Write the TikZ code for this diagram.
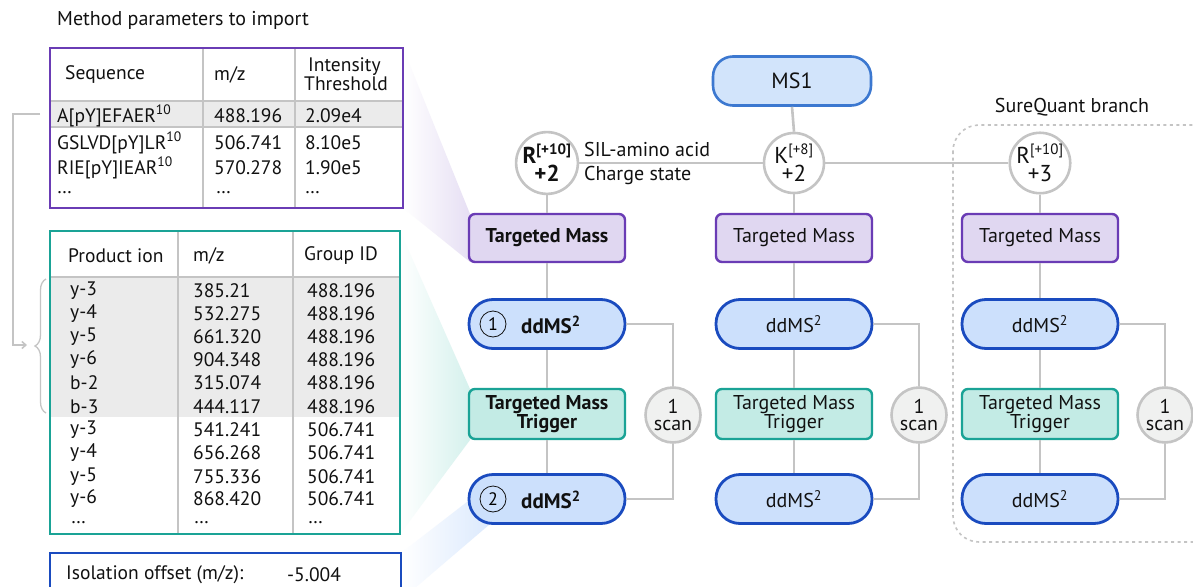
\documentclass[tikz,border=0pt]{standalone}
\usepackage{fontspec}
\setmainfont{PT Sans}
\usetikzlibrary{decorations.pathreplacing,arrows.meta}
\definecolor{purpS}{HTML}{6A3CB5}
\definecolor{purpF}{HTML}{E0D7F1}
\definecolor{tealS}{HTML}{1AA396}
\definecolor{tealF}{HTML}{C3EBE5}
\definecolor{blueS}{HTML}{1A4BBF}
\definecolor{blueF}{HTML}{CCE0FC}
\definecolor{msS}{HTML}{3C78D0}
\definecolor{msF}{HTML}{D2E4FB}
\definecolor{lineG}{HTML}{C4C4C4}
\definecolor{rowG}{HTML}{EBEBEB}
\definecolor{scanF}{HTML}{F0F1F0}
\definecolor{txt}{HTML}{111111}
\tikzset{
  fs/.style={font=\fontsize{20}{21}\selectfont},
  tbl/.style={font=\fontsize{19.5}{20}\selectfont, anchor=west, inner sep=0pt, text=txt},
  conn/.style={draw=lineG, line width=2.6pt},
  tmbox/.style={fs, draw=purpS, fill=purpF, line width=2.4pt, rounded corners=6pt, minimum width=156pt, minimum height=48pt, text=txt},
  trigbox/.style={draw=tealS, fill=tealF, line width=2.4pt, rounded corners=6pt, minimum width=156pt, minimum height=50pt, align=center, text=txt, font=\fontsize{20}{19}\selectfont},
  pill/.style={fs, draw=blueS, fill=blueF, line width=2.8pt, rounded corners=24pt, minimum width=156pt, minimum height=49pt, text=txt},
  ionc/.style={circle, draw=lineG, fill=white, line width=2.6pt, minimum size=60pt, inner sep=0pt, align=center, text=txt, font=\fontsize{23}{19}\selectfont},
  scanc/.style={circle, draw=lineG, fill=scanF, line width=2.6pt, minimum size=55pt, inner sep=0pt, align=center, text=txt, font=\fontsize{20}{17.5}\selectfont},
  numc/.style={circle, draw=txt, line width=0.8pt, minimum size=26pt, inner sep=0pt, font=\fontsize{18}{18}\selectfont},
  lbl/.style={fs, anchor=west, inner sep=0pt, text=txt}
}
\begin{document}
\begin{tikzpicture}[x=1pt,y=-1pt]
\clip (0,0) rectangle (1193,586);
\fill[white] (0,0) rectangle (1193,586);

% wedges
\shade[left color=white, right color=purpF!80] (403,48) -- (470,214) -- (470,262) -- (403,208) -- cycle;
\shade[left color=white, right color=tealF!70] (400,231) -- (470,389) -- (470,440) -- (400,534) -- cycle;
\shade[left color=white, right color=blueF!70] (401,553) -- (485,488) -- (490,524) -- (401,600) -- cycle;

% title
\node[lbl] (title) at (57,20) {Method parameters to import};

% table 1
\fill[white] (50,48) rectangle (403,208);
\fill[rowG] (50,101) rectangle (403,127);
\draw[lineG, line width=1.5pt] (50,101) -- (403,101) (50,127) -- (403,127);
\draw[lineG, line width=1.5pt] (203,48) -- (203,208) (295,48) -- (295,208);
\draw[purpS, line width=2.4pt] (50,48) rectangle (403,208);
\node[tbl] (h1a) at (65,75) {Sequence};
\node[tbl] (h1b) at (214,75) {m/z};
\node[tbl, align=left, font=\fontsize{19.5}{16}\selectfont] (h1c) at (304,74) {\hspace*{4pt}Intensity\\Threshold};
\node[tbl] (r1a) at (57,116) {A[pY]EFAER\textsuperscript{10}};
\node[tbl] (r1b) at (214,116) {488.196};
\node[tbl] (r1c) at (305,116) {2.09e4};
\node[tbl] (r2a) at (57,143) {GSLVD[pY]LR\textsuperscript{10}};
\node[tbl] (r2b) at (214,143) {506.741};
\node[tbl] (r2c) at (305,143) {8.10e5};
\node[tbl] (r3a) at (57,168) {RIE[pY]IEAR\textsuperscript{10}};
\node[tbl] (r3b) at (214,168) {570.278};
\node[tbl] (r3c) at (305,168) {1.90e5};
\node[tbl] (r4a) at (57,193) {\dots};
\node[tbl] (r4b) at (216,193) {\dots};
\node[tbl] (r4c) at (305,193) {\dots};

% table 2
\fill[white] (50,231) rectangle (400,534);
\fill[rowG] (50,277) rectangle (400,417);
\draw[lineG, line width=1.5pt] (50,277) -- (400,277);
\draw[lineG, line width=1.5pt] (178,231) -- (178,534) (293,231) -- (293,534);
\draw[tealS, line width=2.4pt] (50,231) rectangle (400,534);
\node[tbl] (h2a) at (68,256) {Product ion};
\node[tbl] (h2b) at (193,256) {m/z};
\node[tbl] (h2c) at (304,256) {Group ID};
\foreach \i/\yy/\a/\b/\c in {1/291/y-3/385.21/488.196, 2/314/y-4/532.275/488.196, 3/337/y-5/661.320/488.196, 4/360/y-6/904.348/488.196, 5/383/b-2/315.074/488.196, 6/407/b-3/444.117/488.196, 7/430/y-3/541.241/506.741, 8/453/y-4/656.268/506.741, 9/477/y-5/755.336/506.741, 10/499/y-6/868.420/506.741}{
  \node[tbl] (p\i a) at (70,\yy) {\a};
  \node[tbl] (p\i b) at (193,\yy) {\b};
  \node[tbl] (p\i c) at (307,\yy) {\c};
}
\node[tbl] (p11a) at (71,523) {\dots};
\node[tbl] (p11b) at (194,523) {\dots};
\node[tbl] (p11c) at (308,523) {\dots};

% table 3
\fill[white] (50,553) rectangle (401,600);
\draw[blueS, line width=2.4pt] (50,553) rectangle (401,600);
\node[tbl] (iso) at (66,575) {Isolation offset (m/z):};
\node[tbl] (isov) at (287,575) {-5.004};

% bracket and brace
\coordinate (bkA) at (40,114);
\coordinate (bkB) at (13,114);
\coordinate (bkC) at (13,345);
\coordinate (bkD) at (27,345);
\draw[lineG, line width=1.5pt, -{Straight Barb[length=4pt,width=7pt]}] (bkA) -- (bkB) -- (bkC) -- (bkD);
\coordinate (brT) at (46,279);
\coordinate (brB) at (46,413);
\draw[lineG, line width=1.3pt, decorate, decoration={brace, amplitude=11pt}] (brB) -- (brT);

% SureQuant box
\draw[lineG, line width=1.6pt, dash pattern=on 3pt off 3.5pt, rounded corners=26pt] (953,125) rectangle (1225,542);
\node[fs, text=txt] (sqlbl) at (1072,107) {SureQuant branch};

% MS1
\node[draw=msS, fill=msF, line width=2.6pt, rounded corners=20pt, minimum width=158pt, minimum height=49pt, text=txt, font=\fontsize{22}{22}\selectfont] (ms1) at (792,81) {MS1};

% ion circles
\node[ionc] (ion1) at (547,163) {\textbf{R\textsuperscript{\fontsize{15}{15}\selectfont[+10]}}\\[-1pt]\textbf{+2}};
\node[ionc] (ion2) at (794,163) {K\textsuperscript{\fontsize{15}{15}\selectfont[+8]}\\[-1pt]+2};
\node[ionc] (ion3) at (1040,163) {R\textsuperscript{\fontsize{15}{15}\selectfont[+10]}\\[-1pt]+3};
\node[lbl] (sil) at (584,149) {SIL-amino acid};
\node[lbl] (chg) at (584,175) {Charge state};

% column 1
\node[tmbox, font=\fontsize{20}{21}\selectfont\bfseries] (tm1) at (547,238) {Targeted Mass};
\node[pill] (da1) at (547,324) {};
\node[trigbox, font=\fontsize{20}{19}\selectfont\bfseries] (tr1) at (547,414) {Targeted Mass\\Trigger};
\node[pill] (db1) at (547,499) {};
\node[numc] (n1) at (493,324) {1};
\node[lbl, font=\fontsize{21}{21}\selectfont\bfseries] (da1t) at (521,325) {ddMS\textsuperscript{2}};
\node[numc] (n2) at (493,499) {2};
\node[lbl, font=\fontsize{21}{21}\selectfont\bfseries] (db1t) at (521,500) {ddMS\textsuperscript{2}};
\node[scanc] (sc1) at (673,415) {1\\scan};

% column 2
\node[tmbox] (tm2) at (794,238) {Targeted Mass};
\node[pill] (da2) at (794,324) {ddMS\textsuperscript{2}};
\node[trigbox] (tr2) at (794,414) {Targeted Mass\\Trigger};
\node[pill] (db2) at (794,499) {ddMS\textsuperscript{2}};
\node[scanc] (sc2) at (919,415) {1\\scan};

% column 3
\node[tmbox] (tm3) at (1040,238) {Targeted Mass};
\node[pill] (da3) at (1040,324) {ddMS\textsuperscript{2}};
\node[trigbox] (tr3) at (1040,414) {Targeted Mass\\Trigger};
\node[pill] (db3) at (1040,499) {ddMS\textsuperscript{2}};
\node[scanc] (sc3) at (1165,415) {1\\scan};

% connectors
\draw[conn] (ms1.south) -- (ion2.north);
\draw[conn] (ion1.east) -- (ion2.west);
\draw[conn] (ion2.east) -- (ion3.west);
\foreach \c in {1,2,3}{
  \draw[conn] (ion\c.south) -- (tm\c.north);
  \draw[conn] (tm\c.south) -- (da\c.north);
  \draw[conn] (da\c.south) -- (tr\c.north);
  \draw[conn] (tr\c.south) -- (db\c.north);
  \draw[conn] (da\c.east) -| (sc\c.north);
  \draw[conn] (db\c.east) -| (sc\c.south);
}
\end{tikzpicture}
\end{document}
